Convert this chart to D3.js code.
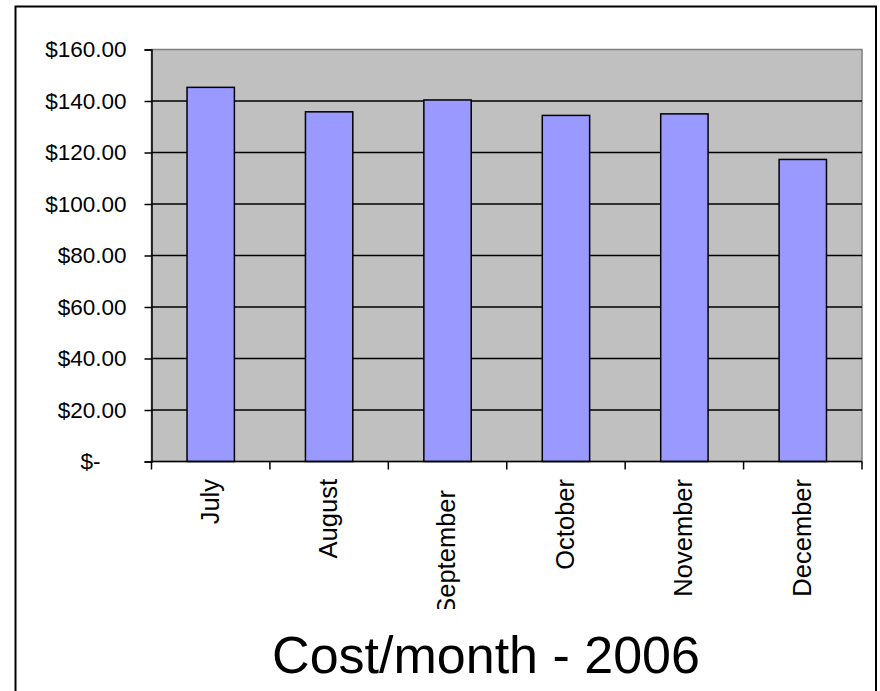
<!DOCTYPE html>
<html><head><meta charset="utf-8">
<script src="https://cdn.jsdelivr.net/npm/d3@7"></script>
<style>html,body{margin:0;padding:0;background:#fff;} svg{display:block;font-family:"Liberation Sans",Arial,sans-serif;}</style>
</head><body>
<svg id="chart" width="880" height="691"></svg>
<script>
const months = ["July","August","September","October","November","December"];
const costs = [145.3, 135.8, 140.4, 134.4, 135.0, 117.3];
const yTicks = [0,20,40,60,80,100,120,140,160];
const title = "Cost/month - 2006";

const svg = d3.select("#chart");
const plot = {left:151.5, top:49.5, right:862, bottom:461.5};

svg.append("rect").attr("x",15.5).attr("y",6.5).attr("width",860.5).attr("height",720)
  .attr("fill","#fff").attr("stroke","#000").attr("stroke-width",2);

const x = d3.scaleBand().domain(months).range([plot.left, plot.right]).paddingInner(0.6).paddingOuter(0.3);
const y = d3.scaleLinear().domain([0,160]).range([plot.bottom, plot.top]);

svg.append("rect").attr("x",plot.left).attr("y",plot.top)
  .attr("width",plot.right-plot.left).attr("height",plot.bottom-plot.top)
  .attr("fill","#C0C0C0").attr("stroke","#808080").attr("stroke-width",1.5);

svg.append("g").selectAll("line").data(yTicks.filter(d=>d>0 && d<160)).join("line")
  .attr("x1",plot.left).attr("x2",plot.right)
  .attr("y1",d=>y(d)).attr("y2",d=>y(d))
  .attr("stroke","#000").attr("stroke-width",1.5);

svg.append("g").selectAll("rect").data(months).join("rect")
  .attr("x",d=>x(d)).attr("width",x.bandwidth())
  .attr("y",(d,i)=>y(costs[i])).attr("height",(d,i)=>y(0)-y(costs[i]))
  .attr("fill","#9999FF").attr("stroke","#000").attr("stroke-width",1.5);

// y axis
const yAxis = d3.axisLeft(y).tickValues(yTicks).tickSize(7).tickPadding(18)
  .tickFormat(d=> d===0 ? "$-" : "$"+d3.format(".2f")(d));
const gy = svg.append("g").attr("transform",`translate(${plot.left},0)`).call(yAxis);
gy.select(".domain").attr("stroke","#000").attr("stroke-width",1.5);
gy.selectAll(".tick line").attr("stroke","#000").attr("stroke-width",1.5);
gy.selectAll(".tick text").attr("font-size",22.5).attr("fill","#000")
  .attr("font-family","'Liberation Sans',Arial,sans-serif")
  .attr("dx",d=>d===0?-26:0);

// x axis
const boundaries = d3.range(months.length+1).map(i=>plot.left + i*(plot.right-plot.left)/months.length);
svg.append("line").attr("x1",plot.left).attr("x2",plot.right).attr("y1",plot.bottom).attr("y2",plot.bottom)
  .attr("stroke","#000").attr("stroke-width",1.5);
svg.append("g").selectAll("line").data(boundaries).join("line")
  .attr("x1",d=>d).attr("x2",d=>d).attr("y1",plot.bottom).attr("y2",plot.bottom+8)
  .attr("stroke","#000").attr("stroke-width",1.5);

svg.append("clipPath").attr("id","xclip").append("rect")
  .attr("x",plot.left-60).attr("y",plot.bottom).attr("width",plot.right-plot.left+120).attr("height",147.5);
svg.append("g").attr("clip-path","url(#xclip)").selectAll("text").data(months).join("text")
  .attr("transform",d=>`translate(${x(d)+x.bandwidth()/2-1},${d==="September"?490:479}) rotate(-90)`)
  .attr("text-anchor","end").attr("dy","0.35em")
  .attr("font-size",25.5).attr("fill","#000").text(d=>d);

svg.append("text").attr("x",486).attr("y",673).attr("text-anchor","middle")
  .attr("font-size",52).attr("fill","#000").text(title);
</script>
</body></html>
